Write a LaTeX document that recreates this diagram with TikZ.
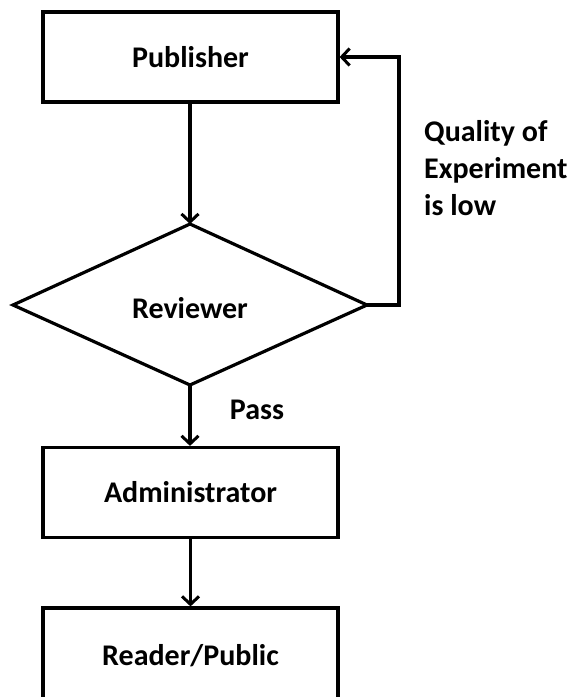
\documentclass[tikz,border=0pt]{standalone}
\usepackage{fontspec}
\setmainfont{Carlito}
\usetikzlibrary{arrows.meta}
\begin{document}
\begin{tikzpicture}[x=1pt,y=-1pt,
  lbl/.style={font=\bfseries\fontsize{30}{37}\selectfont},
  box/.style={draw, line width=3.2pt, minimum width=295pt, minimum height=90pt, inner sep=0pt, lbl},
  dia/.style={draw, line width=3.2pt},
  conn/.style={line width=3.2pt, -{Straight Barb[length=8pt,width=17pt,line width=3pt]}}
]
\useasboundingbox (0,0) rectangle (571,697);
\node[box] (pub) at (190.5,57) {Publisher};
\draw[dia] (190,224) coordinate (dtop) -- (367,305) coordinate (dright) -- (190,385) coordinate (dbot) -- (13,305) coordinate (dleft) -- cycle;
\node[lbl] (rev) at (190,308) {Reviewer};
\node[box] (adm) at (190.5,492.5) {Administrator};
\node[box, minimum height=96pt] (rdr) at (190.5,656) {Reader/Public};
\coordinate (fb1) at (399,305);
\coordinate (fb2) at (399,57);
\draw[conn] (pub.south -| dtop) -- (dtop);
\draw[conn] (dbot) -- (adm.north -| dbot);
\draw[conn] (adm.south) -- (rdr.north);
\draw[conn] (dright) -- (fb1) -- (fb2) -- (pub.east);
\node[lbl, anchor=center] (pass) at (257,410) {Pass};
\node[lbl, align=left, anchor=west, inner sep=0pt] (qual) at (424,168) {Quality of\\Experiment\\is low};
\end{tikzpicture}
\end{document}
